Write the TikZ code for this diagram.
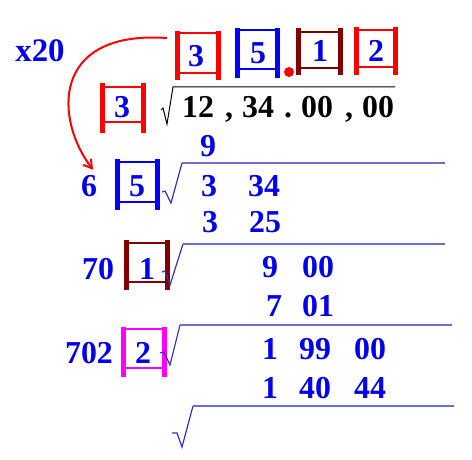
\documentclass[tikz,border=0pt]{standalone}
\usepackage{fontspec}
\setmainfont{Liberation Serif}
\usetikzlibrary{arrows.meta}
\definecolor{numblue}{RGB}{0,0,235}
\definecolor{boxred}{RGB}{255,0,0}
\definecolor{boxblue}{RGB}{0,0,255}
\definecolor{boxdark}{RGB}{128,0,0}
\definecolor{boxpink}{RGB}{255,0,255}
\definecolor{radstroke}{RGB}{50,50,190}
\definecolor{radline}{RGB}{110,110,210}
\tikzset{
  num/.style={font=\fontsize{32}{38}\selectfont\bfseries,text=numblue,inner sep=0pt,anchor=base},
  blk/.style={num,text=black},
  rim/.style={line width=2bp},
  bar/.style={line width=5bp},
  radical/.style={radstroke,line width=1.2bp},
  divline/.style={radline,line width=1.5bp},
  jump/.style={boxred,line width=2bp,-{Straight Barb[length=8bp,width=10bp]}}
}
\begin{document}
\begin{tikzpicture}[x=1bp,y=-1bp]
 \useasboundingbox (0,0) rectangle (472,460);
 % root digits on top
 \draw[rim,boxred](177.5,33)--(218,33) (177.5,73)--(218,73);
 \draw[bar,boxred](177.5,31)--(177.5,80) (218,31)--(218,80);
 \draw[rim,boxblue](237.5,30)--(277.5,30) (237.5,69)--(277.5,69);
 \draw[bar,boxblue](237.5,28)--(237.5,78) (277.5,28)--(277.5,78);
 \draw[rim,boxdark](298.5,32)--(340,32) (298.5,68)--(340,68);
 \draw[bar,boxdark](298.5,28)--(298.5,75) (340,28)--(340,75);
 \draw[rim,boxred](356,30)--(395.5,30) (356,67)--(395.5,67);
 \draw[bar,boxred](356,27)--(356,75) (395.5,27)--(395.5,75);
 \fill[boxred](289,72) circle (5bp);
 \node[num] (q1) at (196,67) {3};
 \node[num] (q2) at (258,64) {5};
 \node[num] (q3) at (320,62) {1};
 \node[num] (q4) at (376,62) {2};
 \node[num,font=\fontsize{33}{38}\selectfont\bfseries] (times) at (40,62) {x20};
 % number under the root
 \draw[rim,boxred](102.5,87)--(143,87) (102.5,122)--(143,122);
 \draw[bar,boxred](102.5,83)--(102.5,133) (143,83)--(143,133);
 \node[num] (d1) at (122,118) {3};
 \draw[black,line width=1bp](161,110)--(163,108)--(167,124)--(173,87)--(395,87);
 \node[blk] (n12) at (198,118) {12};
 \node[blk] (c1) at (229,118) {,};
 \node[blk] (n34) at (258,118) {34};
 \node[blk] (p1) at (288,118) {.};
 \node[blk] (n00a) at (317,118) {00};
 \node[blk] (c2) at (349,118) {,};
 \node[blk] (n00b) at (378,118) {00};
 % first step
 \node[num] (s9) at (208,157) {9};
 \draw[rim,boxblue](117.5,162)--(157.5,162) (117.5,202)--(157.5,202);
 \draw[bar,boxblue](117.5,159)--(117.5,210) (157.5,159)--(157.5,210);
 \node[num] (six) at (89,197) {6};
 \node[num] (d2) at (137,197) {5};
 \draw[radical](162,192)--(165,191)--(171,203)--(182,163);
 \draw[divline](182,163)--(445,163);
 \node[num] (r3) at (209,197) {3};
 \node[num] (r34) at (264,197) {34};
 \node[num] (m3) at (210,233) {3};
 \node[num] (m25) at (265,233) {25};
 % second step
 \draw[rim,boxdark](126.5,243)--(167,243) (126.5,282)--(167,282);
 \draw[bar,boxdark](126.5,240)--(126.5,290) (167,240)--(167,290);
 \node[num] (seventy) at (98,279) {70};
 \node[num] (d3) at (147,279) {1};
 \draw[radical](162,272)--(165,271)--(170,285)--(183,244);
 \draw[divline](183,244)--(445,244);
 \node[num] (r9) at (270,277) {9};
 \node[num] (r00) at (318,277) {00};
 \node[num] (m7) at (274,316) {7};
 \node[num] (m01) at (318,316) {01};
 % third step
 \draw[rim,boxpink](123.5,329)--(164.5,329) (123.5,368)--(164.5,368);
 \draw[bar,boxpink](123.5,327)--(123.5,377) (164.5,327)--(164.5,377);
 \node[num] (sevenotwo) at (89,363) {702};
 \node[num] (d4) at (143,363) {2};
 \draw[radical](160,353)--(164,352)--(170,365)--(180,325);
 \draw[divline](180,325)--(452,325);
 \node[num] (r1) at (270,359) {1};
 \node[num] (r99) at (315,359) {99};
 \node[num] (r00b) at (370,359) {00};
 \node[num] (m1) at (270,398) {1};
 \node[num] (m40) at (315,398) {40};
 \node[num] (m44) at (370,398) {44};
 % empty last root
 \draw[radical](172,433)--(177,433)--(182,447)--(193,406);
 \draw[divline](193,406)--(454,406);
 % doubling arrow
 \coordinate (tail) at (167,38);
 \draw[jump](tail) .. controls (50,30) and (55,120) .. ([shift={(4bp,6bp)}]six.north);
\end{tikzpicture}
\end{document}
